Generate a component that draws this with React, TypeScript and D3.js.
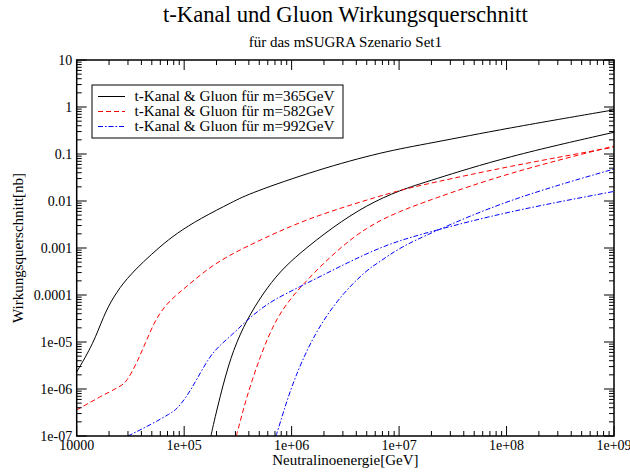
import React from "react";
import * as d3 from "d3";

const W = 630;
const H = 472;
const M = { left: 76.7, right: 16, top: 60, bottom: 36 };

const title = "t-Kanal und Gluon Wirkungsquerschnitt";
const subtitle = "für das mSUGRA Szenario Set1";
const xLabel = "Neutralinoenergie[GeV]";
const yLabel = "Wirkungsquerschnitt[nb]";

const xTickValues = [1e4, 1e5, 1e6, 1e7, 1e8, 1e9];
const xTickLabels = ["10000", "1e+05", "1e+06", "1e+07", "1e+08", "1e+09"];
const yTickValues = [10, 1, 0.1, 0.01, 0.001, 1e-4, 1e-5, 1e-6, 1e-7];
const yTickLabels = ["10", "1", "0.1", "0.01", "0.001", "0.0001", "1e-05", "1e-06", "1e-07"];

const legendLabels = [
  "t-Kanal & Gluon für m=365GeV",
  "t-Kanal & Gluon für m=582GeV",
  "t-Kanal & Gluon für m=992GeV",
];
const seriesColors = ["#000000", "#ff0000", "#0000ff"];
const seriesDash = ["none", "5,3", "5,2,1.5,2"];

// [energy GeV, cross section nb]
const black1: [number, number][] = [
  [1e4, 2.3e-6], [1.43e4, 9.3e-6], [1.77e4, 3.5e-5], [2.19e4, 9.1e-5], [2.92e4, 2.26e-4],
  [4.17e4, 5.1e-4], [5.96e4, 1.07e-3], [8.5e4, 2.05e-3], [1.4e5, 4.2e-3], [2.86e5, 9.7e-3],
  [4.09e5, 1.46e-2], [1.71e6, 4.57e-2], [7.1e6, 0.112], [1.94e7, 0.169], [1e8, 0.352], [1e9, 0.87],
];
const black2: [number, number][] = [
  [1.78e5, 1e-7], [1.8e5, 1.22e-7], [2.31e5, 1.32e-6], [2.86e5, 6.8e-6], [3.81e5, 2.95e-5],
  [5.44e5, 1.1e-4], [7.78e5, 3.16e-4], [1.19e6, 7.8e-4], [2.44e6, 2.84e-3], [4.99e6, 8.2e-3],
  [1.02e7, 1.71e-2], [1.94e7, 2.7e-2], [1e8, 8.8e-2], [1e9, 0.29],
];
const red1: [number, number][] = [
  [1e4, 3.57e-7], [1.65e4, 6.9e-7], [2.53e4, 1.12e-6], [2.92e4, 1.43e-6], [3.61e4, 3.52e-6],
  [4.48e4, 1.1e-5], [5.55e4, 3.45e-5], [7.38e4, 7.8e-5], [1.05e5, 1.5e-4], [1.74e5, 4.0e-4],
  [2.86e5, 7.7e-4], [4.09e5, 1.16e-3], [1.19e6, 3.63e-3], [3.48e6, 8.2e-3], [1.02e7, 1.71e-2],
  [1.94e7, 2.38e-2], [1e8, 5.37e-2], [1e9, 0.14],
];
const red2: [number, number][] = [
  [3.05e5, 1e-7], [3.08e5, 1.05e-7], [3.81e5, 6.85e-7], [5.07e5, 4.86e-6], [7.24e5, 3.45e-5],
  [1.146e6, 1.34e-4], [2.44e6, 7.7e-4], [4.99e6, 2.84e-3], [1.02e7, 6.1e-3],
  [1.94e7, 1.05e-2], [1e8, 3.88e-2], [1e9, 0.148],
];
const blue1: [number, number][] = [
  [3.0e4, 1e-7], [5.16e4, 1.86e-7], [7.4e4, 3.0e-7], [8.5e4, 3.7e-7], [1.05e5, 6.7e-7],
  [1.31e5, 1.6e-6], [1.73e5, 5.0e-6], [2.15e5, 8.5e-6], [2.86e5, 1.5e-5], [3.81e5, 2.85e-5],
  [5.0e5, 4.8e-5], [6.75e5, 7.8e-5], [1.19e6, 1.5e-4], [2.12e6, 2.9e-4], [3.74e6, 5.6e-4],
  [8.2e6, 1.26e-3], [1.94e7, 2.22e-3], [1e8, 5.9e-3], [1e9, 1.6e-2],
];
const blue2: [number, number][] = [
  [7.1e5, 1e-7], [7.24e5, 1.05e-7], [9.64e5, 9.5e-7], [1.38e6, 6.8e-6], [1.97e6, 2.95e-5],
  [3.02e6, 1.1e-4], [4.99e6, 3.4e-4], [6.62e6, 5.1e-4], [1.0e7, 1.0e-3], [1.94e7, 2.05e-3],
  [1e8, 1.05e-2], [1e9, 4.8e-2],
];

const curves: { data: [number, number][]; s: number }[] = [
  { data: black1, s: 0 }, { data: black2, s: 0 },
  { data: red1, s: 1 }, { data: red2, s: 1 },
  { data: blue1, s: 2 }, { data: blue2, s: 2 },
];

export default function App() {
  const x0 = M.left;
  const x1 = W - M.right;
  const y0 = M.top;
  const y1 = H - M.bottom;
  const x = d3.scaleLog().domain([1e4, 1e9]).range([x0, x1]);
  const y = d3.scaleLog().domain([1e-7, 10]).range([y1, y0]);
  const line = d3
    .line<[number, number]>()
    .x((d) => x(d[0]))
    .y((d) => y(d[1]))
    .curve(d3.curveBasis);

  const xMinor: number[] = [];
  for (let e = 4; e < 9; e++) for (let k = 2; k <= 9; k++) xMinor.push(k * Math.pow(10, e));
  const yMinor: number[] = [];
  for (let e = -7; e < 1; e++) for (let k = 2; k <= 9; k++) yMinor.push(k * Math.pow(10, e));

  const font = "'Liberation Serif', 'DejaVu Serif', serif";
  const majL = 10;
  const minL = 5;

  return (
    <svg width={W} height={H} style={{ position: "absolute", left: 0, top: 0 }} fontFamily={font}>
      <rect width={W} height={H} fill="#fff" />
      <defs>
        <clipPath id="plotclip">
          <rect x={x0} y={y0} width={x1 - x0} height={y1 - y0} />
        </clipPath>
      </defs>
      <text x={(x0 + x1) / 2} y={21.5} textAnchor="middle" fontSize={22.7}>{title}</text>
      <text x={(x0 + x1) / 2} y={47} textAnchor="middle" fontSize={15}>{subtitle}</text>

      <g clipPath="url(#plotclip)">
        {curves.map((c, i) => (
          <path key={i} d={line(c.data) || ""} fill="none" stroke={seriesColors[c.s]}
            strokeWidth={1} strokeDasharray={seriesDash[c.s]} />
        ))}
      </g>

      <g stroke="#000" strokeWidth={1}>
        {xTickValues.map((v, i) => (
          <g key={"xm" + i}>
            <line x1={x(v)} x2={x(v)} y1={y1} y2={y1 - majL} />
            <line x1={x(v)} x2={x(v)} y1={y0} y2={y0 + majL} />
          </g>
        ))}
        {xMinor.map((v, i) => (
          <g key={"xn" + i}>
            <line x1={x(v)} x2={x(v)} y1={y1} y2={y1 - minL} />
            <line x1={x(v)} x2={x(v)} y1={y0} y2={y0 + minL} />
          </g>
        ))}
        {yTickValues.map((v, i) => (
          <g key={"ym" + i}>
            <line x1={x0} x2={x0 + majL} y1={y(v)} y2={y(v)} />
            <line x1={x1} x2={x1 - majL} y1={y(v)} y2={y(v)} />
          </g>
        ))}
        {yMinor.map((v, i) => (
          <g key={"yn" + i}>
            <line x1={x0} x2={x0 + minL} y1={y(v)} y2={y(v)} />
            <line x1={x1} x2={x1 - minL} y1={y(v)} y2={y(v)} />
          </g>
        ))}
      </g>
      <rect x={x0} y={y0} width={x1 - x0} height={y1 - y0} fill="none" stroke="#000" strokeWidth={1.5} />

      {xTickValues.map((v, i) => (
        <text key={"xl" + i} x={x(v)} y={y1 + 14} textAnchor="middle" fontSize={14}>{xTickLabels[i]}</text>
      ))}
      {yTickValues.map((v, i) => (
        <text key={"yl" + i} x={x0 - 4.5} y={y(v) + 5} textAnchor="end" fontSize={14}>{yTickLabels[i]}</text>
      ))}

      <text x={(x0 + x1) / 2} y={465} textAnchor="middle" fontSize={15}>{xLabel}</text>
      <text transform={`translate(23,${(y0 + y1) / 2}) rotate(-90)`} textAnchor="middle" fontSize={15}>{yLabel}</text>

      <rect x={92} y={85} width={251} height={53} fill="#fff" stroke="#000" strokeWidth={1} />
      {legendLabels.map((t, i) => (
        <g key={"lg" + i}>
          <line x1={98} x2={125} y1={96.5 + i * 15} y2={96.5 + i * 15}
            stroke={seriesColors[i]} strokeWidth={1} strokeDasharray={seriesDash[i]} />
          <text x={134.5} y={101 + i * 15} fontSize={15.2}>{t}</text>
        </g>
      ))}
    </svg>
  );
}
